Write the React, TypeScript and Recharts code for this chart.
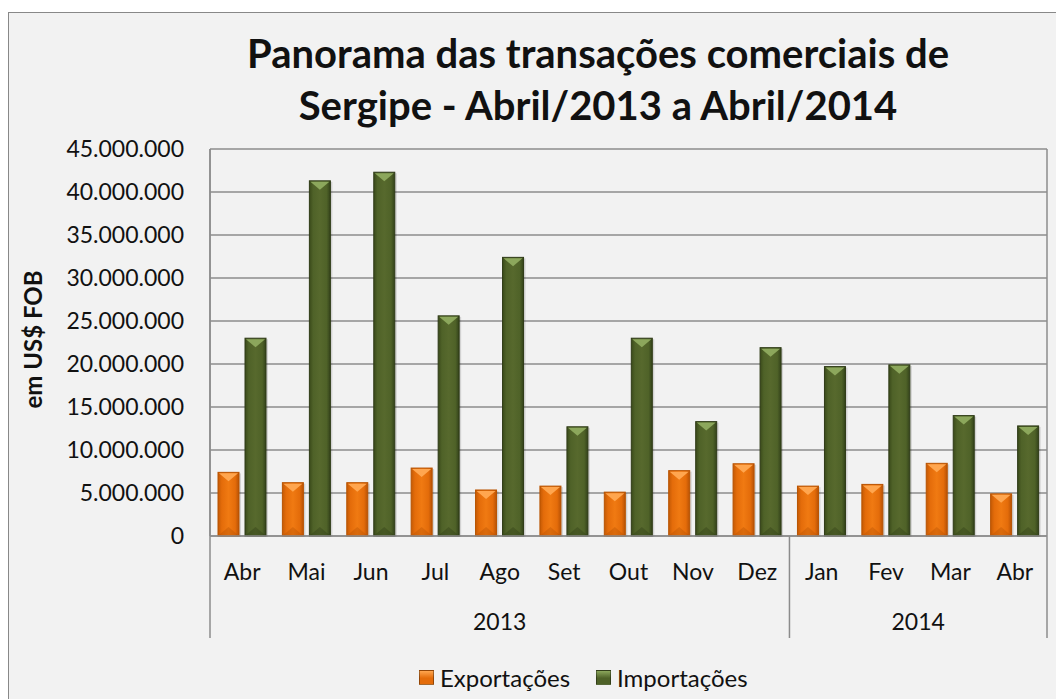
import { BarChart, Bar, XAxis, YAxis, CartesianGrid } from 'recharts'

const months = ['Abr', 'Mai', 'Jun', 'Jul', 'Ago', 'Set', 'Out', 'Nov', 'Dez', 'Jan', 'Fev', 'Mar', 'Abr']
const years = ['2013', '2013', '2013', '2013', '2013', '2013', '2013', '2013', '2013', '2014', '2014', '2014', '2014']
const exportacoes = [7400000, 6200000, 6200000, 7900000, 5350000, 5800000, 5100000, 7600000, 8400000, 5800000, 6000000, 8450000, 4900000]
const importacoes = [23000000, 41300000, 42300000, 25600000, 32400000, 12700000, 23000000, 13300000, 21900000, 19700000, 19900000, 14000000, 12800000]
const yTicks = [0, 5000000, 10000000, 15000000, 20000000, 25000000, 30000000, 35000000, 40000000, 45000000]

const data = months.map((month, i) => ({ month, year: years[i], exp: exportacoes[i], imp: importacoes[i] }))

const CHART_W = 1050
const CHART_H = 686
const MARGIN = { top: 136, right: 12, left: 0, bottom: 61 }
const Y_W = 201
const BAND = (CHART_W - Y_W - MARGIN.right) / months.length
const FONT = 'Lato, "Open Sans", sans-serif'
const LINE = '#8c8c8c'

const fmt = (v: number) => String(v).replace(/\B(?=(\d{3})+(?!\d))/g, '.')

function bevel(gradId: string, light: string, dark: string, edge: string) {
  return (p: any) => {
    const { x, y, width: w, height: h } = p
    if (!h || h <= 0) return null
    const d = Math.min(9, h / 2)
    return (
      <g>
        <rect x={x + 2} y={y + 1} width={w} height={h} fill="rgba(0,0,0,0.13)" />
        <rect x={x} y={y} width={w} height={h} fill={`url(#${gradId})`} stroke={edge} strokeWidth={1} />
        <polygon points={`${x + 1},${y + 1} ${x + w - 1},${y + 1} ${x + w / 2},${y + d}`} fill={light} />
        <polygon points={`${x + 1},${y + h - 1} ${x + w - 1},${y + h - 1} ${x + w / 2},${y + h - d}`} fill={dark} opacity={0.3} />
      </g>
    )
  }
}

const ExpBar = bevel('gradExp', '#ffa64f', '#a84a00', '#b85300')
const ImpBar = bevel('gradImp', '#8ca75c', '#26310f', '#2f3b17')

function MonthTick({ x, y, payload, index }: any) {
  const yr = years[index]
  const first = index === 0 || years[index - 1] !== yr
  const last = index === years.length - 1
  const count = years.filter((v) => v === yr).length
  return (
    <g>
      <text x={x} y={y + 44} textAnchor="middle" fontSize={23} fontFamily={FONT} fill="#111">
        {payload.value}
      </text>
      {first && (
        <>
          <line x1={x - BAND / 2} y1={y} x2={x - BAND / 2} y2={y + 102} stroke={LINE} strokeWidth={1.5} />
          <text x={x + ((count - 1) * BAND) / 2} y={y + 94} textAnchor="middle" fontSize={23} fontFamily={FONT} fill="#111">
            {yr}
          </text>
        </>
      )}
      {last && <line x1={x + BAND / 2} y1={y} x2={x + BAND / 2} y2={y + 102} stroke={LINE} strokeWidth={1.5} />}
    </g>
  )
}

function YLabel({ viewBox }: any) {
  const cx = viewBox.x + 23
  const cy = viewBox.y + viewBox.height / 2 - 3
  return (
    <text x={cx} y={cy} transform={`rotate(-90 ${cx} ${cy})`} textAnchor="middle" dominantBaseline="central" fontSize={24} fontWeight={700} fontFamily={FONT} fill="#111">
      em US$ FOB
    </text>
  )
}

function LegendItem({ color, light, label }: { color: string; light: string; label: string }) {
  return (
    <span style={{ display: 'inline-flex', alignItems: 'center', marginRight: 26 }}>
      <span style={{ width: 15, height: 15, background: `linear-gradient(180deg, ${light} 0%, ${color} 55%)`, border: '1px solid rgba(0,0,0,0.35)', boxSizing: 'border-box', marginRight: 6 }} />
      <span>{label}</span>
    </span>
  )
}

export default function App() {
  return (
    <>
      <style>{'body{overflow:hidden}'}</style>
      <div style={{ marginTop: 4, width: 1060, height: 690, position: 'relative', background: '#f2f2f2', borderTop: '1px solid #888', borderLeft: '1px solid #888', fontFamily: FONT }}>
        <div style={{ position: 'absolute', left: 0, top: 14, width: 1178, textAlign: 'center', fontSize: 40, fontWeight: 700, lineHeight: '52px', color: '#111' }}>
          Panorama das transações comerciais de
          <br />
          Sergipe - Abril/2013 a Abril/2014
        </div>
        <BarChart width={CHART_W} height={CHART_H} data={data} margin={MARGIN} barSize={21} barGap={6}>
          <defs>
            <linearGradient id="gradExp" x1="0" y1="0" x2="1" y2="0">
              <stop offset="0%" stopColor="#c45a05" />
              <stop offset="18%" stopColor="#e46c0a" />
              <stop offset="50%" stopColor="#f07a12" />
              <stop offset="82%" stopColor="#e46c0a" />
              <stop offset="100%" stopColor="#b85205" />
            </linearGradient>
            <linearGradient id="gradImp" x1="0" y1="0" x2="1" y2="0">
              <stop offset="0%" stopColor="#3a4a1a" />
              <stop offset="18%" stopColor="#4f6228" />
              <stop offset="50%" stopColor="#57692d" />
              <stop offset="82%" stopColor="#4f6228" />
              <stop offset="100%" stopColor="#33421a" />
            </linearGradient>
          </defs>
          <CartesianGrid
            stroke={LINE}
            strokeWidth={1.5}
            verticalCoordinatesGenerator={({ offset }: any) => [offset.left, offset.left + offset.width]}
          />
          <YAxis
            width={Y_W}
            domain={[0, 45000000]}
            ticks={yTicks}
            tickFormatter={fmt}
            tickLine={false}
            axisLine={{ stroke: LINE, strokeWidth: 1.5 }}
            tickSize={0}
            tickMargin={26}
            tick={{ fontSize: 23, fontFamily: FONT, fill: '#111' }}
            label={<YLabel />}
          />
          <XAxis
            dataKey="month"
            height={102}
            tickLine={false}
            tickSize={0}
            tickMargin={0}
            interval={0}
            axisLine={{ stroke: LINE, strokeWidth: 1.5 }}
            tick={<MonthTick />}
          />
          <Bar dataKey="exp" name="Exportações" shape={ExpBar} isAnimationActive={false} />
          <Bar dataKey="imp" name="Importações" shape={ImpBar} isAnimationActive={false} />
        </BarChart>
        <div style={{ position: 'absolute', left: 410, top: 650, fontSize: 24, color: '#111', display: 'flex', alignItems: 'center' }}>
          <LegendItem color="#e46c0a" light="#ffa64f" label="Exportações" />
          <LegendItem color="#4f6228" light="#8ca75c" label="Importações" />
        </div>
      </div>
    </>
  )
}
